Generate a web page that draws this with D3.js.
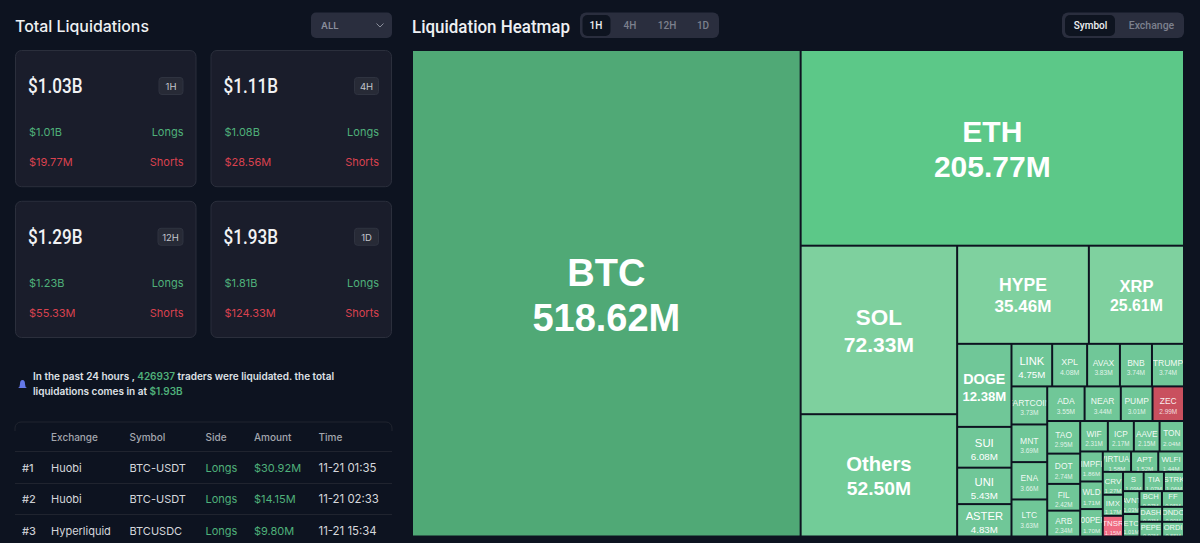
<!DOCTYPE html>
<html><head><meta charset="utf-8">
<script src="https://cdn.jsdelivr.net/npm/d3@7"></script>
<style>html,body{margin:0;background:#0d1320;overflow:hidden}svg{display:block}text{font-family:Inter,Roboto,sans-serif}</style>
</head><body><svg id="c" width="1200" height="543"></svg>
<script>
const cardAmounts=["$1.03B","$1.11B","$1.29B","$1.93B"];
const cardPeriods=["1H","4H","12H","1D"];
const cardLongs=["$1.01B","$1.08B","$1.23B","$1.81B"];
const cardShorts=["$19.77M","$28.56M","$55.33M","$124.33M"];
const tableHeaders=["Exchange","Symbol","Side","Amount","Time"];
const tableRanks=["#1","#2","#3"];
const tableExchanges=["Huobi","Huobi","Hyperliquid"];
const tableSymbols=["BTC-USDT","BTC-USDT","BTCUSDC"];
const tableSides=["Longs","Longs","Longs"];
const tableAmounts=["$30.92M","$14.15M","$9.80M"];
const tableTimes=["11-21 01:35","11-21 02:33","11-21 15:34"];
const heatPeriods=["1H","4H","12H","1D"];
const heatModes=["Symbol","Exchange"];
const symbols=["BTC","ETH","SOL","Others","HYPE","XRP","DOGE","SUI","UNI","ASTER","LINK","XPL","AVAX","BNB","TRUMP","FARTCOIN","MNT","ENA","LTC","ADA","NEAR","PUMP","ZEC","TAO","DOT","FIL","ARB","WIF","ICP","AAVE","TON","IMPFI","WLD","1000PEPE","VIRTUAL","APT","WLFI","CRV","IMX","TNSR","S","TIA","STRK","AVNT","ETC","BCH","FF","DASH","PEPE","ONDO","ORDI"];
const liquidations=[518.62,205.77,72.33,52.50,35.46,25.61,12.38,6.08,5.43,4.83,4.75,4.08,3.83,3.74,3.74,3.73,3.69,3.66,3.63,3.55,3.44,3.01,2.99,2.95,2.74,2.42,2.34,2.31,2.17,2.15,2.04,1.86,1.71,1.70,1.58,1.52,1.44,1.27,1.17,1.15,1.09,1.07,1.06,1.03,1.01,0.97,0.95,0.93,0.92,0.90,0.88];

const svg=d3.select("#c");
const GREEN="#4fb07a",RED="#d9424f";
function t(g,x,y,s,o={}){const e=g.append("text").attr("x",x).attr("y",y).text(s)
 .attr("fill",o.fill||"#e8eaee").attr("font-size",o.size||12).attr("font-weight",o.weight||400)
 .attr("text-anchor",o.anchor||"start").attr("dominant-baseline","central")
 .style("font-family",o.font||null);
 if(o.len)e.attr("textLength",o.len).attr("lengthAdjust","spacingAndGlyphs");
 if(o.opacity)e.attr("fill-opacity",o.opacity);
 return e;}

// left panel
t(svg,15,26,"Total Liquidations",{size:16,weight:500,fill:"#eef0f3",len:134});
svg.append("rect").attr("x",311).attr("y",12.5).attr("width",81).attr("height",25.5).attr("rx",5).attr("fill","#2a2e3e");
t(svg,321,25.5,"ALL",{size:9.5,weight:600,fill:"#8b8f9c"});
svg.append("path").attr("d","M376.500 23.500l3.500 3.500l3.500-3.500").attr("fill","none").attr("stroke","#8b8f9c").attr("stroke-width",1);

const cx=d3.scaleBand().domain([0,1]).range([15,392]).paddingInner(0.0715);
const cy=d3.scaleBand().domain([0,1]).range([50,338]).paddingInner(0.09);
cardAmounts.forEach((a,i)=>{
 const x=cx(i%2),y=cy(Math.floor(i/2)),w=cx.bandwidth(),h=cy.bandwidth();
 const g=svg.append("g").attr("transform",`translate(${x},${y})`);
 g.append("rect").attr("x",.5).attr("y",.5).attr("width",w-1).attr("height",h-1).attr("rx",6).attr("fill","#1a1d2b").attr("stroke","#2b2f3c");
 t(g,13,36,a,{size:21,weight:500,font:"Roboto",fill:"#f1f2f4",len:54.5});
 const pw=cardPeriods[i].length>2?26:25;
 g.append("rect").attr("x",w-13-pw+.5).attr("y",27.5).attr("width",pw-1).attr("height",17).attr("rx",3).attr("fill","#272a36").attr("stroke","#2f3340");
 t(g,w-13-pw/2,36.500,cardPeriods[i],{size:9.5,weight:400,anchor:"middle",fill:"#c4c6cc"});
 t(g,14,82,cardLongs[i],{size:11,fill:GREEN});
 t(g,w-13,82,"Longs",{size:11,fill:GREEN,anchor:"end"});
 t(g,14,112,cardShorts[i],{size:11,fill:RED});
 t(g,w-13,112,"Shorts",{size:11,fill:RED,anchor:"end"});
});

// notice
svg.append("path").attr("d","M18 388q2-1 2-4q0-4 2.500-4q2.500 0 2.500 4q0 3 2 4z").attr("fill","#6478e8");
const n1=svg.append("text").attr("x",33).attr("y",376).attr("font-size",10).attr("font-weight",600).attr("fill","#dfe1e6").attr("dominant-baseline","central");
n1.append("tspan").text("In the past 24 hours , ");
n1.append("tspan").text("426937").attr("fill",GREEN);
n1.append("tspan").text(" traders were liquidated. the total");
const n2=svg.append("text").attr("x",33).attr("y",391).attr("font-size",10).attr("font-weight",600).attr("fill","#dfe1e6").attr("dominant-baseline","central");
n2.append("tspan").text("liquidations comes in at ");
n2.append("tspan").text("$1.93B").attr("fill",GREEN);

// table
const colX=[51,129.500,205.500,254,318.500];
svg.append("path").attr("d","M15 431v-3a6 6 0 0 1 6-6h365a6 6 0 0 1 6 6v3").attr("fill","none").attr("stroke","#20242f");
[451.500,483.500,514.500].forEach(y=>svg.append("line").attr("x1",15).attr("x2",392).attr("y1",y).attr("y2",y).attr("stroke","#20242f"));
tableHeaders.forEach((h,i)=>t(svg,colX[i],437,h,{size:10,weight:500,fill:"#a3a6ae"}));
const rowY=d3.scalePoint().domain([0,1,2]).range([467.5,531]);
tableRanks.forEach((r,i)=>{
 const y=rowY(i);
 t(svg,22,y,r,{size:11,weight:500,fill:"#c9cbd0"});
 t(svg,colX[0],y,tableExchanges[i],{size:11,fill:"#d5d7dc"});
 t(svg,colX[1],y,tableSymbols[i],{size:11,fill:"#d5d7dc"});
 t(svg,colX[2],y,tableSides[i],{size:11,fill:GREEN});
 t(svg,colX[3],y,tableAmounts[i],{size:11,fill:GREEN});
 t(svg,colX[4],y,tableTimes[i],{size:11.4,fill:"#d5d7dc"});
});

// heatmap header
t(svg,412,26,"Liquidation Heatmap",{size:18,weight:500,font:"Roboto",fill:"#eef0f3",len:158});
svg.append("rect").attr("x",580).attr("y",12.5).attr("width",139).attr("height",25.5).attr("rx",6).attr("fill","#2a2e3e");
svg.append("rect").attr("x",582.500).attr("y",15).attr("width",28).attr("height",21).attr("rx",5).attr("fill","#0e1420");
const pX=[596,630,667,703];
heatPeriods.forEach((p,i)=>t(svg,pX[i],25.5,p,{size:10,weight:500,anchor:"middle",font:"Roboto",fill:i?"#7c808d":"#eef0f3"}));
svg.append("rect").attr("x",1062).attr("y",12.5).attr("width",122).attr("height",25.5).attr("rx",6).attr("fill","#2a2e3e");
svg.append("rect").attr("x",1065).attr("y",15).attr("width",50).attr("height",21).attr("rx",5).attr("fill","#0e1420");
t(svg,1090.5,25.5,heatModes[0],{size:10,weight:500,anchor:"middle",font:"Roboto",fill:"#eef0f3"});
t(svg,1151.5,25.5,heatModes[1],{size:10.5,weight:500,anchor:"middle",font:"Roboto",fill:"#7c808d"});

// treemap
const root=d3.hierarchy({children:symbols.map((s,i)=>({name:s,value:liquidations[i]}))}).sum(d=>d.value||0);
d3.treemap().tile(d3.treemapSquarify.ratio(1)).size([772,486.500]).round(false)(root);
const fills={BTC:"#50a976",ETH:"#5cc888",SOL:"#7ed09e",Others:"#72cc98",HYPE:"#7fd19f",XRP:"#7fd19f",ZEC:"#c9505e",TNSR:"#ef6a82"};
const sizeDomain=[0.9,1.2,4,4.7,6,12,35,72,205,518];
const nameSize=d3.scaleLog().domain(sizeDomain).range([7.5,8,8.6,11.2,11.3,14.2,17.5,22.4,30,38]).clamp(true);
const valSize=d3.scaleLog().domain(sizeDomain).range([5.5,6,6.6,9.7,9.7,13,17,21,30,38]).clamp(true);
const map=svg.append("g").attr("transform","translate(412,50)");
const defs=svg.append("defs");
root.leaves().forEach((d,i)=>{
 const w=d.x1-d.x0,h=d.y1-d.y0;
 defs.append("clipPath").attr("id","cp"+i).append("rect").attr("x",d.x0+1).attr("y",d.y0+1).attr("width",w-2).attr("height",h-2);
 map.append("rect").attr("x",d.x0+1).attr("y",d.y0+1).attr("width",w-2).attr("height",h-2).attr("fill",fills[d.data.name]||"#70c798");
 const g=map.append("g").attr("clip-path",`url(#cp${i})`);
 const v=d.data.value,ns=nameSize(v),vs=valSize(v),off=(v>=25&&v<500)?1:2.5,cxx=(d.x0+d.x1)/2,cyy=(d.y0+d.y1)/2+off,gap=ns*1.18;
 const f="Liberation Sans";
 const weight=v>=12?700:400;
 t(g,cxx,cyy-gap/2,d.data.name,{size:ns,weight,anchor:"middle",fill:"#fff",font:f,opacity:v<4.5?.92:1});
 t(g,cxx,cyy+gap/2,v.toFixed(2)+"M",{size:vs,weight,anchor:"middle",fill:"#fff",font:f,opacity:v<4.5?.8:1});
});
</script></body></html>
